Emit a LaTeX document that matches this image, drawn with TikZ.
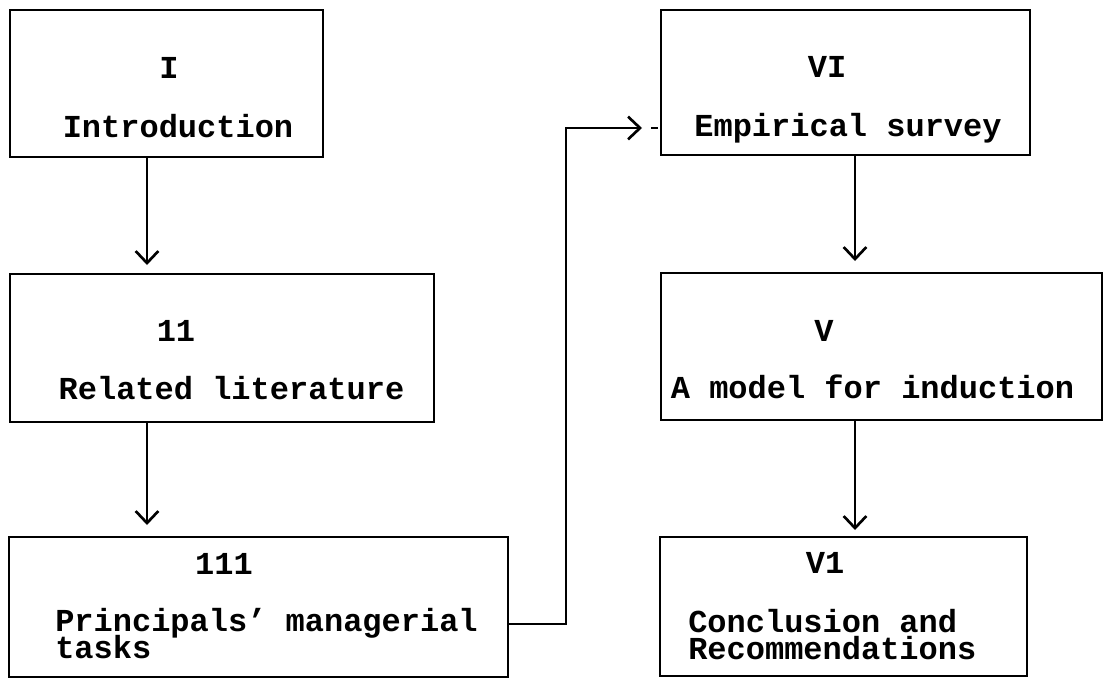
\documentclass[tikz,border=0pt]{standalone}
\usepackage{fontspec}
\setmonofont{Liberation Mono}
\usetikzlibrary{arrows.meta}
\newcommand\mytightlines{\lineskiplimit=-30pt\relax\lineskip=0pt\relax}
\tikzset{
  box/.style={draw, line width=2pt, rectangle, inner sep=0pt, outer sep=0pt},
  lbl/.style={inner sep=0pt, font=\ttfamily\bfseries\fontsize{24pt}{20pt}\selectfont\mytightlines},
  arr/.style={line width=2pt, -{Straight Barb[length=9pt,width=17pt,line width=2pt]}},
  link/.style={line width=2pt},
}
\begin{document}
\begin{tikzpicture}[x=0.75pt,y=-0.75pt]
\useasboundingbox (0,0) rectangle (1103,679);
% boxes
\node[box, minimum width=234.75pt, minimum height=110.25pt] (b1) at (166.5,83.5) {};
\node[box, minimum width=318pt, minimum height=111pt] (b2) at (222,348) {};
\node[box, minimum width=374.25pt, minimum height=105pt] (b3) at (258.5,607) {};
\node[box, minimum width=276.75pt, minimum height=108.75pt] (b6) at (845.5,82.5) {};
\node[box, minimum width=330.75pt, minimum height=110.25pt] (b5) at (881.5,346.5) {};
\node[box, minimum width=275.25pt, minimum height=104.25pt] (b7) at (843.5,606.5) {};
% labels
\node[lbl, anchor=base] (t1a) at (169,78) {I};
\node[lbl, anchor=base] (t1b) at (178,137) {Introduction};
\node[lbl, anchor=base] (t2a) at (176,341) {11};
\node[lbl, anchor=base] (t2b) at (231.5,399) {Related literature};
\node[lbl, anchor=base] (t3a) at (224,574) {111};
\node[lbl, anchor=base west, align=left] (t3b) at (55,658) {Principals’ managerial\\tasks};
\node[lbl, anchor=base] (t6a) at (827,77) {VI};
\node[lbl, anchor=base] (t6b) at (848,136) {Empirical survey};
\node[lbl, anchor=base] (t5a) at (824,341) {V};
\node[lbl, anchor=base] (t5b) at (872.5,398) {A model for induction};
\node[lbl, anchor=base] (t7a) at (825,573) {V1};
\node[lbl, anchor=base west, align=left] (t7b) at (688,659) {Conclusion and\\Recommendations};
% connector coordinates
\coordinate (xa) at (147,0);
\coordinate (xb) at (855,0);
\coordinate (k1) at (566,624);
\coordinate (k2) at (566,128);
\coordinate (d1) at (651,128);
\coordinate (d2) at (658,128);
% connectors
\draw[arr, shorten >=6.75pt] (b1.south -| xa) -- (b2.north -| xa);
\draw[arr, shorten >=9pt] (b2.south -| xa) -- (b3.north -| xa);
\draw[arr, shorten >=9pt] (b6.south -| xb) -- (b5.north -| xb);
\draw[arr, shorten >=5.25pt] (b5.south -| xb) -- (b7.north -| xb);
\draw[arr, shorten >=14.25pt] (b3.east |- k1) -- (k1) -- (k2) -- (b6.west |- k2);
\draw[link] (d1) -- (d2);
\end{tikzpicture}
\end{document}
